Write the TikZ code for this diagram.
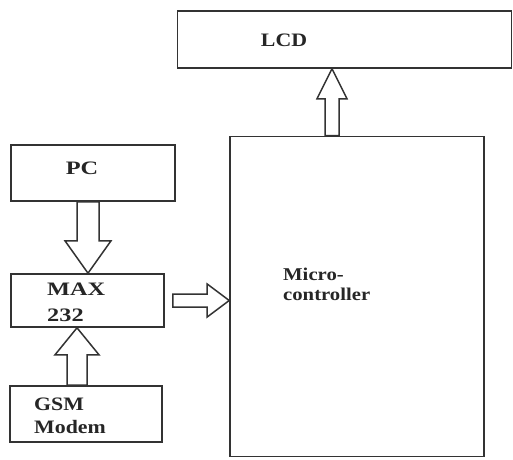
\documentclass[tikz,border=0pt]{standalone}
\usepackage{fontspec}
\setmainfont{Liberation Serif}
\usetikzlibrary{calc}
\tikzset{
  blk/.style={draw=black!80, line width=1.6pt, fill=white, inner sep=0pt},
  barrow/.style={draw=black!80, line width=1.5pt, fill=white, line join=miter},
  lbl/.style={inner sep=0pt, align=left, font=\fontsize{19}{23}\selectfont\bfseries, text=black!85}
}
\newcommand\sx[1]{\scalebox{1.15}[1]{#1}}
\newcommand\sxx[1]{\scalebox{1.28}[1]{#1}}
\begin{document}
\begin{tikzpicture}[x=1pt,y=-1pt]
\useasboundingbox (0,0) rectangle (513,459);
% boxes
\node[blk, minimum width=334pt, minimum height=57pt] (lcd) at (344.5,39.5) {};
\node[blk, minimum width=254pt, minimum height=320pt] (micro) at (357,296.5) {};
\node[blk, minimum width=164pt, minimum height=56pt] (pc) at (93,173) {};
\node[blk, minimum width=153pt, minimum height=53pt] (max) at (87.5,300.5) {};
\node[blk, minimum width=152pt, minimum height=56pt] (gsm) at (86,414) {};
% labels
\node[lbl] (tlcd) at (284,40) {\sx{LCD}};
\node[lbl] (tpc) at (82,168) {\sxx{PC}};
\node[lbl, anchor=north west, font=\fontsize{19}{26}\selectfont\bfseries] (tmax) at (47,283) {\sxx{MAX}\\\sxx{232}};
\node[lbl, anchor=north west] (tgsm) at (34,398) {\sx{GSM}\\\sx{Modem}};
\node[lbl, anchor=north west, font=\fontsize{18}{20}\selectfont\bfseries] (tmicro) at (283,268) {\sx{Micro-}\\\sx{controller}};
% arrow anchors
\coordinate (a1s) at ([xshift=-25pt]micro.north);
\coordinate (a1e) at (a1s |- lcd.south);
\coordinate (a2s) at ([xshift=-5pt]pc.south);
\coordinate (a2e) at (a2s |- max.north);
\coordinate (a3s) at ([xshift=8pt]max.east);
\coordinate (a3e) at (micro.west |- a3s);
\coordinate (a4s) at ([xshift=-9pt]gsm.north);
\coordinate (a4e) at (a4s |- max.south);
% block arrows
\draw[barrow] ($(a1s)+(-7,0)$) -- ($(a1e)+(-7,30)$) -- ($(a1e)+(-15,30)$) -- (a1e)
  -- ($(a1e)+(15,30)$) -- ($(a1e)+(7,30)$) -- ($(a1s)+(7,0)$) -- cycle;
\draw[barrow] ($(a2s)+(-11,0)$) -- ($(a2s)+(-11,39)$) -- ($(a2s)+(-23,39)$) -- (a2e)
  -- ($(a2s)+(23,39)$) -- ($(a2s)+(11,39)$) -- ($(a2s)+(11,0)$) -- cycle;
\draw[barrow] ($(a3s)+(0,-6.5)$) -- ($(a3e)+(-22,-6.5)$) -- ($(a3e)+(-22,-16.5)$) -- (a3e)
  -- ($(a3e)+(-22,16.5)$) -- ($(a3e)+(-22,6.5)$) -- ($(a3s)+(0,6.5)$) -- cycle;
\draw[barrow] ($(a4s)+(-10,0)$) -- ($(a4e)+(-10,27)$) -- ($(a4e)+(-22,27)$) -- (a4e)
  -- ($(a4e)+(22,27)$) -- ($(a4e)+(10,27)$) -- ($(a4s)+(10,0)$) -- cycle;
\end{tikzpicture}
\end{document}
